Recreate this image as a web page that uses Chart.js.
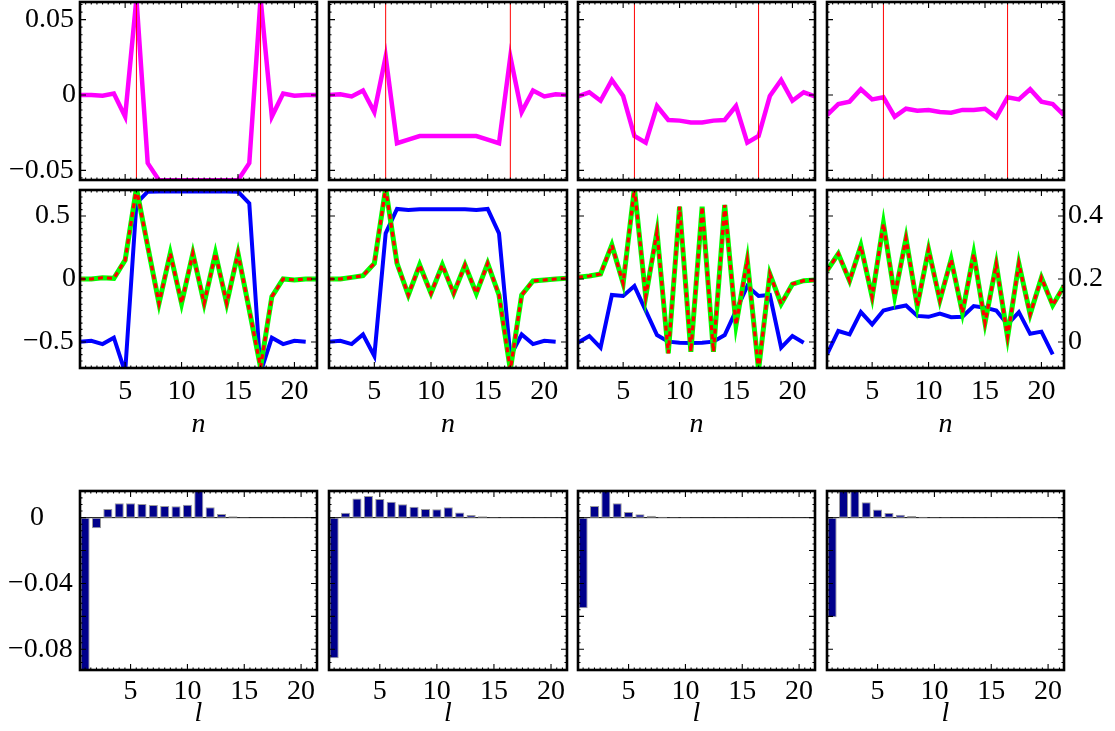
<!DOCTYPE html>
<html><head><meta charset="utf-8">
<script src="https://cdn.jsdelivr.net/npm/chart.js@4/dist/chart.umd.min.js"></script>
<style>
html,body{margin:0;padding:0;background:#fff;}
#wrap{position:relative;width:1115px;height:731px;overflow:hidden;background:#fff;}
canvas{position:absolute;}
</style></head><body><div id="wrap"></div>
<script>
// ---------------- DATA ----------------
const nValues = [1,2,3,4,5,6,7,8,9,10,11,12,13,14,15,16,17,18,19,20,21,22];
const nValuesBlue = [1,2,3,4,5,6,7,8,9,10,11,12,13,14,15,16,17,18,19,20,21];
const lValues = [1,2,3,4,5,6,7,8,9,10,11,12,13,14,15,16,17,18,19,20,21];
const markerN = [6, 17];

const xTickValues = [5, 10, 15, 20];
const xTickLabels = ['5', '10', '15', '20'];
const topTickValues = [0.05, 0, -0.05];
const topTickLabels = ['0.05', '0', '\u22120.05'];
const midTickValues = [0.5, 0, -0.5];
const midTickLabels = ['0.5', '0', '\u22120.5'];
const midRightTickValues = [0.4, 0.2, 0];
const midRightTickLabels = ['0.4', '0.2', '0'];
const barTickValues = [0, -0.04, -0.08];
const barTickLabels = ['0', '\u22120.04', '\u22120.08'];

const magentaA = [0, 0, -0.0005, 0.001, -0.0143, 0.064, -0.0452, -0.0565, -0.0565, -0.0565, -0.0565, -0.0565, -0.0565, -0.0565, -0.0565, -0.0452, 0.064, -0.0143, 0.001, -0.0005, 0, 0];
const magentaB = [0, 0.0005, -0.001, 0.003, -0.0113, 0.0254, -0.032, -0.0296, -0.0272, -0.0272, -0.0272, -0.0272, -0.0272, -0.0272, -0.0296, -0.032, 0.0254, -0.0113, 0.003, -0.001, 0.0005, 0];
const magentaC = [-0.001, 0.0018, -0.0038, 0.0099, -0.0007, -0.0272, -0.0316, -0.0073, -0.0166, -0.017, -0.0183, -0.0183, -0.017, -0.0166, -0.0073, -0.0316, -0.0272, -0.0007, 0.0099, -0.0038, 0.0018, -0.001];
const magentaD = [-0.0133, -0.006, -0.0044, 0.0038, -0.0029, -0.0015, -0.0144, -0.0091, -0.0104, -0.0099, -0.0113, -0.0117, -0.0099, -0.0099, -0.0091, -0.0148, -0.0015, -0.0029, 0.0038, -0.0044, -0.006, -0.0133];

const greenA = [0, 0, 0.01, 0.005, 0.15, 0.72, 0.26, -0.193, 0.204, -0.193, 0.204, -0.193, 0.204, -0.193, 0.204, -0.246, -0.7, -0.14, 0, -0.008, 0, 0];
const greenB = [0, 0, 0.013, 0.026, 0.124, 0.72, 0.124, -0.127, 0.111, -0.114, 0.111, -0.114, 0.111, -0.114, 0.124, -0.127, -0.72, -0.127, -0.016, -0.008, 0, 0.005];
const greenC = [0.013, 0.024, 0.04, 0.27, -0.034, 0.72, -0.14, 0.376, -0.59, 0.574, -0.577, 0.574, -0.577, 0.587, -0.365, 0.15, -0.72, 0.04, -0.198, -0.04, -0.013, -0.008];
const greenD = [0.227, 0.28, 0.194, 0.305, 0.143, 0.376, 0.146, 0.329, 0.114, 0.294, 0.132, 0.262, 0.093, 0.28, 0.061, 0.247, 0.016, 0.249, 0.088, 0.204, 0.117, 0.178];

const blueA = [-0.497, -0.49, -0.516, -0.466, -0.74, 0.6, 0.693, 0.695, 0.695, 0.695, 0.695, 0.695, 0.695, 0.695, 0.693, 0.6, -0.74, -0.466, -0.516, -0.49, -0.497];
const blueB = [-0.497, -0.49, -0.516, -0.44, -0.611, 0.362, 0.556, 0.548, 0.553, 0.553, 0.553, 0.553, 0.553, 0.548, 0.556, 0.362, -0.611, -0.44, -0.516, -0.49, -0.497];
const blueC = [-0.505, -0.452, -0.545, -0.127, -0.135, -0.056, -0.251, -0.444, -0.497, -0.505, -0.508, -0.505, -0.497, -0.444, -0.251, -0.056, -0.135, -0.127, -0.545, -0.452, -0.505];
const blueD = [-0.039, 0.035, 0.024, 0.095, 0.056, 0.1, 0.109, 0.116, 0.083, 0.08, 0.09, 0.079, 0.08, 0.114, 0.109, 0.1, 0.056, 0.095, 0.026, 0.033, -0.039];

const barsA = [-0.095, -0.0065, 0.0053, 0.0087, 0.0087, 0.0083, 0.0077, 0.0071, 0.0069, 0.0079, 0.019, 0.0063, 0.0022, 0.0008, 0.0003, 0.0001, 0.0001, 0.0001, 0.0001, 0.0001, 0.0001];
const barsB = [-0.0855, 0.003, 0.0117, 0.0132, 0.0113, 0.0097, 0.0081, 0.0067, 0.0053, 0.0051, 0.0063, 0.0032, 0.0016, 0.0008, 0.0003, 0.0002, 0.0001, 0.0001, 0.0001, 0.0001, 0.0001];
const barsC = [-0.0551, 0.0071, 0.019, 0.0087, 0.0034, 0.002, 0.0012, 0.0006, 0.0003, 0.0002, 0.0001, 0.0001, 0.0001, 0.0001, 0.0001, 0.0001, 0.0001, 0.0001, 0.0001, 0.0001, 0.0001];
const barsD = [-0.0605, 0.019, 0.019, 0.0093, 0.0049, 0.0028, 0.0018, 0.001, 0.0006, 0.0003, 0.0002, 0.0001, 0.0001, 0.0001, 0.0001, 0.0001, 0.0001, 0.0001, 0.0001, 0.0001, 0.0001];

// axis ranges
const nMin = 1, nMax = 22;
const lMin = 0.55, lMax = 21.4;
const topMin = -0.0564, topMax = 0.0617;
const midMin = -0.706, midMax = 0.706;
const midRightMin = -0.0824, midRightMax = 0.4824;
const barMin = -0.0926, barMax = 0.0162;

// ---------------- LAYOUT / STYLE ----------------
const FONT = "'Liberation Serif', 'Times New Roman', serif";
const FS = 28;
const colL = [80, 329, 578, 827], colR = [317, 567, 815, 1064];
const rowT = [2, 190, 491], rowB = [180, 368, 670];
const cvTop = [0, 185, 486], cvBot = [185, 450, 731];

const framePlugin = {
  id: 'frame',
  afterDraw(chart, args, o) {
    const ctx = chart.ctx, a = chart.chartArea;
    const xs = chart.scales.x, ys = chart.scales.y;
    const minorList = (min, max, step) => { const r = []; for (let k = Math.ceil(min / step - 1e-9); k * step <= max + 1e-12; k++) r.push(k * step); return r; };
    ctx.save();
    ctx.strokeStyle = '#000';
    ctx.lineWidth = 1.1;
    ctx.beginPath();
    const xt = (list, len) => list.forEach(v => { const p = xs.getPixelForValue(v); if (p < a.left + 1 || p > a.right - 1) return; ctx.moveTo(p, a.bottom); ctx.lineTo(p, a.bottom - len); ctx.moveTo(p, a.top); ctx.lineTo(p, a.top + len); });
    const yt = (list, len) => list.forEach(v => { const p = ys.getPixelForValue(v); if (p < a.top + 1 || p > a.bottom - 1) return; ctx.moveTo(a.left, p); ctx.lineTo(a.left + len, p); ctx.moveTo(a.right, p); ctx.lineTo(a.right - len, p); });
    xt(minorList(xs.min, xs.max, o.xMinor), 2.5);
    xt(xTickValues, 6);
    yt(minorList(ys.min, ys.max, o.yMinor), 2.5);
    yt(o.yMajor, 6);
    ctx.stroke();
    ctx.lineWidth = 2.6;
    ctx.strokeRect(a.left, a.top, a.right - a.left, a.bottom - a.top);
    ctx.restore();
  }
};

const zeroPad = s => { s.paddingLeft = 0; s.paddingRight = 0; s.paddingTop = 0; s.paddingBottom = 0; };

function xAxis(min, max, show, title, h, labelPad, titlePad) {
  return {
    type: 'linear', position: 'bottom', min, max, bounds: 'data', offset: false,
    grid: { display: false, drawTicks: false }, border: { display: false },
    afterBuildTicks: s => { s.ticks = xTickValues.map(v => ({ value: v })); },
    ticks: { display: show, autoSkip: false, maxRotation: 0, padding: labelPad, color: '#000',
      font: { family: FONT, size: FS }, callback: (v, i) => xTickLabels[i] },
    title: { display: !!title, text: title || '', color: '#000', padding: { top: 0, bottom: titlePad },
      font: { family: FONT, size: FS, style: 'italic' } },
    afterFit: s => { s.height = h; zeroPad(s); }
  };
}
function labelAxis(min, max, values, labels, pad) {
  return {
    type: 'linear', position: 'left', min, max, bounds: 'data',
    grid: { display: false, drawTicks: false }, border: { display: false },
    afterBuildTicks: s => { s.ticks = values.map(v => ({ value: v })); },
    ticks: { mirror: true, crossAlign: 'near', padding: pad, autoSkip: false, color: '#000',
      font: { family: FONT, size: FS }, callback: (v, i) => labels[i] },
    afterFit: s => { s.width = 0; zeroPad(s); }
  };
}
function hiddenY(min, max) {
  return { type: 'linear', display: false, min, max, bounds: 'data' };
}

const wrap = document.getElementById('wrap');
function makeChart(r, c, config, rightW) {
  const cvL = c === 0 ? 0 : colL[c] - 6;
  const cvR = c === 3 ? 1115 : colR[c] + 6;
  const w = cvR - cvL, h = cvBot[r] - cvTop[r];
  const cv = document.createElement('canvas');
  cv.width = w; cv.height = h;
  cv.style.left = cvL + 'px'; cv.style.top = cvTop[r] + 'px';
  cv.style.width = w + 'px'; cv.style.height = h + 'px';
  wrap.appendChild(cv);
  const padL = colL[c] - cvL, padR = cvR - colR[c], padT = rowT[r] - cvTop[r], padB = cvBot[r] - rowB[r];
  config.options = Object.assign({
    responsive: false, animation: false, events: [], devicePixelRatio: 1,
    layout: { autoPadding: false, padding: { left: padL, right: rightW ? 0 : padR, top: padT, bottom: 0 } },
  }, config.options);
  config.options.plugins = Object.assign({ legend: { display: false }, tooltip: { enabled: false } }, config.options.plugins);
  config.plugins = [framePlugin];
  return { cv, padB, padR, config };
}

const pts = (xs, ys) => xs.map((x, i) => ({ x, y: ys[i] }));
const magentaSets = [magentaA, magentaB, magentaC, magentaD];
const greenSets = [greenA, greenB, greenC, greenD];
const blueSets = [blueA, blueB, blueC, blueD];
const barSets = [barsA, barsB, barsC, barsD];

// -------- Row 1: magenta lines with red markers --------
for (let c = 0; c < 4; c++) {
  const m = makeChart(0, c, { type: 'line', data: { datasets: [] }, options: {} });
  const ds = markerN.map(k => ({ data: [{ x: k, y: topMin }, { x: k, y: topMax }], borderColor: '#ff0000', borderWidth: 1, pointRadius: 0, clip: 0, order: 0 }));
  ds.push({ data: pts(nValues, magentaSets[c]), borderColor: '#ff00ff', borderWidth: 4.5, pointRadius: 0, tension: 0, clip: 0, order: 1 });
  m.config.data.datasets = ds;
  const scales = { x: xAxis(nMin, nMax, false, null, m.padB, 0, 0), y: hiddenY(topMin, topMax) };
  if (c === 0) {
    scales.lt0 = labelAxis(topMin, topMax, [topTickValues[0]], [topTickLabels[0]], -55);
    scales.lt1 = labelAxis(topMin, topMax, [topTickValues[1]], [topTickLabels[1]], -18);
    scales.lt2 = labelAxis(topMin, topMax, [topTickValues[2]], [topTickLabels[2]], -71);
  }
  m.config.options.scales = scales;
  m.config.options.plugins.frame = { xMinor: 0.5, yMinor: 0.005, yMajor: topTickValues };
  new Chart(m.cv, m.config);
}

// -------- Row 2: green/red dashed and blue lines --------
for (let c = 0; c < 4; c++) {
  const right = c === 3;
  const m = makeChart(1, c, { type: 'line', data: { datasets: [] }, options: {} }, right ? 51 : 0);
  const yId = right ? 'yr' : 'y';
  m.config.data.datasets = [
    { data: pts(nValues, greenSets[c]), yAxisID: yId, borderColor: '#ff0000', borderWidth: 3.2, borderDash: [5, 4], pointRadius: 0, tension: 0, clip: 0, order: 0 },
    { data: pts(nValues, greenSets[c]), yAxisID: yId, borderColor: '#00ff00', borderWidth: 5, pointRadius: 0, tension: 0, clip: 0, order: 1 },
    { data: pts(nValuesBlue, blueSets[c]), yAxisID: yId, borderColor: '#0000ff', borderWidth: 4, pointRadius: 0, tension: 0, clip: 0, order: 2 }
  ];
  const scales = { x: xAxis(nMin, nMax, true, 'n', m.padB, 7, 9), y: hiddenY(midMin, midMax) };
  if (c === 0) {
    scales.lm0 = labelAxis(midMin, midMax, [midTickValues[0]], [midTickLabels[0]], -45);
    scales.lm1 = labelAxis(midMin, midMax, [midTickValues[1]], [midTickLabels[1]], -18);
    scales.lm2 = labelAxis(midMin, midMax, [midTickValues[2]], [midTickLabels[2]], -57);
  }
  if (right) {
    scales.yr = {
      type: 'linear', position: 'right', min: midRightMin, max: midRightMax, bounds: 'data',
      grid: { display: false, drawTicks: false }, border: { display: false },
      afterBuildTicks: s => { s.ticks = midRightTickValues.map(v => ({ value: v })); },
      ticks: { padding: 4, crossAlign: 'near', autoSkip: false, color: '#000', font: { family: FONT, size: FS },
        callback: (v, i) => midRightTickLabels[i] },
      afterFit: s => { s.width = 51; zeroPad(s); }
    };
  }
  m.config.options.scales = scales;
  m.config.options.plugins.frame = { xMinor: 0.5, yMinor: 0.05, yMajor: midTickValues };
  new Chart(m.cv, m.config);
}

// -------- Row 3: bar charts --------
for (let c = 0; c < 4; c++) {
  const m = makeChart(2, c, { type: 'bar', data: { datasets: [] }, options: {} });
  m.config.data.datasets = [
    { type: 'bar', data: pts(lValues, barSets[c]), backgroundColor: '#00008b', borderColor: '#9a9a9a', borderWidth: 1,
      borderSkipped: false, barPercentage: 1, categoryPercentage: 0.8, clip: 0, order: 1 },
    { type: 'line', data: [{ x: lMin, y: 0 }, { x: lMax, y: 0 }], borderColor: '#000', borderWidth: 1, pointRadius: 0, clip: 0, order: 2 }
  ];
  const scales = { x: xAxis(lMin, lMax, true, 'l', m.padB, 5, 1), y: hiddenY(barMin, barMax) };
  if (c === 0) {
    scales.lb0 = labelAxis(barMin, barMax, [barTickValues[0]], [barTickLabels[0]], -50);
    scales.lb1 = labelAxis(barMin, barMax, [barTickValues[1], barTickValues[2]], [barTickLabels[1], barTickLabels[2]], -72);
  }
  m.config.options.scales = scales;
  m.config.options.plugins.frame = { xMinor: 0.5, yMinor: 0.004, yMajor: [0, -0.02, -0.04, -0.06, -0.08] };
  new Chart(m.cv, m.config);
}
</script>
</body></html>
